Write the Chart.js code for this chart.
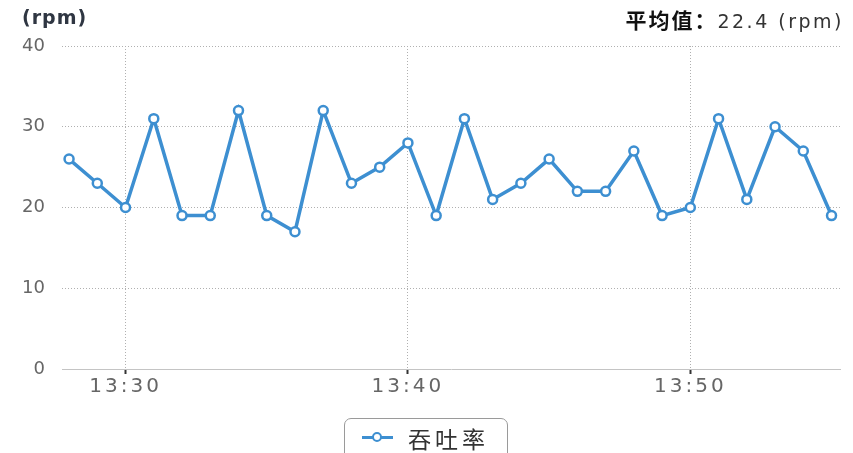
<!DOCTYPE html>
<html lang="zh">
<head>
  <meta charset="UTF-8">
  <title>吞吐率</title>
  <script src="https://cdn.jsdelivr.net/npm/chart.js"></script>
  <style>
    body { margin: 0; background: #fff; }
    #wrap { position: relative; width: 853px; height: 453px; overflow: hidden; }
    #unit { position: absolute; left: 22px; top: 6px; font: 600 19px "DejaVu Sans", sans-serif; color: #2f3642; letter-spacing: 1px; }
    #avg { position: absolute; right: 9px; top: 4px; color: #111; white-space: nowrap; }
    #avg .k { font: 700 21px "Noto Sans CJK SC", sans-serif; letter-spacing: 2px; }
    #avg .v { font: 19px "DejaVu Sans", sans-serif; color: #333; letter-spacing: 2.5px; }
    .legend { position: absolute; left: 344px; top: 418px; width: 164px; height: 50px; border: 1.5px solid #9a9a9a; border-radius: 7px; box-sizing: border-box; }
    .legend .ln { position: absolute; left: 17px; top: 17px; width: 31px; height: 3px; background: #3d8fd1; }
    .legend .pt { position: absolute; left: 27px; top: 13px; width: 6px; height: 6px; border: 2.5px solid #3d8fd1; border-radius: 50%; background: #fff; }
    .legend .tx { position: absolute; left: 63px; top: 2px; font: 23px "Noto Sans CJK SC", sans-serif; color: #333; letter-spacing: 4px; }
  </style>
</head>
<body>
<div id="wrap">
  <canvas id="myChart" width="853" height="453"></canvas>
  <div id="unit"></div>
  <div id="avg"><span class="k"></span><span class="v"></span></div>
  <div class="legend"><div class="ln"></div><div class="pt"></div><div class="tx"></div></div>
</div>
<script>
  // datos
  const times = ['13:28','13:29','13:30','13:31','13:32','13:33','13:34','13:35','13:36','13:37',
                 '13:38','13:39','13:40','13:41','13:42','13:43','13:44','13:45','13:46','13:47',
                 '13:48','13:49','13:50','13:51','13:52','13:53','13:54','13:55'];
  const throughput = [26, 23, 20, 31, 19, 19, 32, 19, 17, 32,
                      23, 25, 28, 19, 31, 21, 23, 26, 22, 22,
                      27, 19, 20, 31, 21, 30, 27, 19];
  const xTicks = ['13:30', '13:40', '13:50'];
  const yTicks = [0, 10, 20, 30, 40];
  const seriesName = '吞吐率';
  const unitLabel = '(rpm)';
  const avgKey = '平均值：';
  const avgValue = '22.4 (rpm)';

  const blue = '#3d8fd1';
  const toMin = t => { const p = t.split(':'); return (+p[0] - 13) * 60 + +p[1]; };
  const fromMin = m => '13:' + String(m).padStart(2, '0');

  document.getElementById('unit').textContent = unitLabel;
  document.querySelector('#avg .k').textContent = avgKey;
  document.querySelector('#avg .v').textContent = avgValue;
  document.querySelector('.legend .tx').textContent = seriesName;

  // espaciado de letras solo para las etiquetas del eje x (las del eje y se dibujan despues)
  const spacing = {
    id: 'spacing',
    beforeDraw(c) { c.ctx.letterSpacing = '3px'; },
    beforeDatasetsDraw(c) { c.ctx.letterSpacing = '0px'; }
  };

  new Chart(document.getElementById('myChart'), {
    type: 'line',
    data: {
      datasets: [{
        label: seriesName,
        data: times.map((t, i) => ({ x: toMin(t), y: throughput[i] })),
        borderColor: blue,
        borderWidth: 3.5,
        pointRadius: 4.5,
        pointBorderWidth: 2.5,
        pointBackgroundColor: '#fff',
        pointBorderColor: blue,
        tension: 0,
        fill: false
      }]
    },
    options: {
      responsive: false,
      animation: false,
      layout: { padding: { top: 46, right: 13, left: 0, bottom: 0 } },
      plugins: { legend: { display: false }, tooltip: { enabled: false } },
      scales: {
        x: {
          type: 'linear',
          min: 27.75,
          max: 55.3,
          afterBuildTicks: s => { s.ticks = xTicks.map(t => ({ value: toMin(t) })); },
          afterFit: s => { s.height = 84; },
          ticks: {
            callback: v => fromMin(v),
            color: '#666',
            font: { family: 'DejaVu Sans', size: 20 },
            padding: 1,
            maxRotation: 0
          },
          grid: {
            color: '#b0b0b0',
            lineWidth: 1,
            tickLength: 5,
            tickColor: '#333',
            tickWidth: 2,
            tickBorderDash: []
          },
          border: { display: true, color: '#c4c4c4', width: 1, dash: [1, 2] }
        },
        y: {
          min: 0,
          max: 40,
          afterBuildTicks: s => { s.ticks = yTicks.map(v => ({ value: v })); },
          afterFit: s => { s.width = 62; },
          ticks: {
            z: 1,
            color: '#666',
            font: { family: 'DejaVu Sans', size: 18 },
            padding: 17
          },
          grid: { color: '#b0b0b0', lineWidth: 1, drawTicks: false },
          border: { display: false, dash: [1, 2] }
        }
      }
    },
    plugins: [spacing]
  });
</script>
</body>
</html>
